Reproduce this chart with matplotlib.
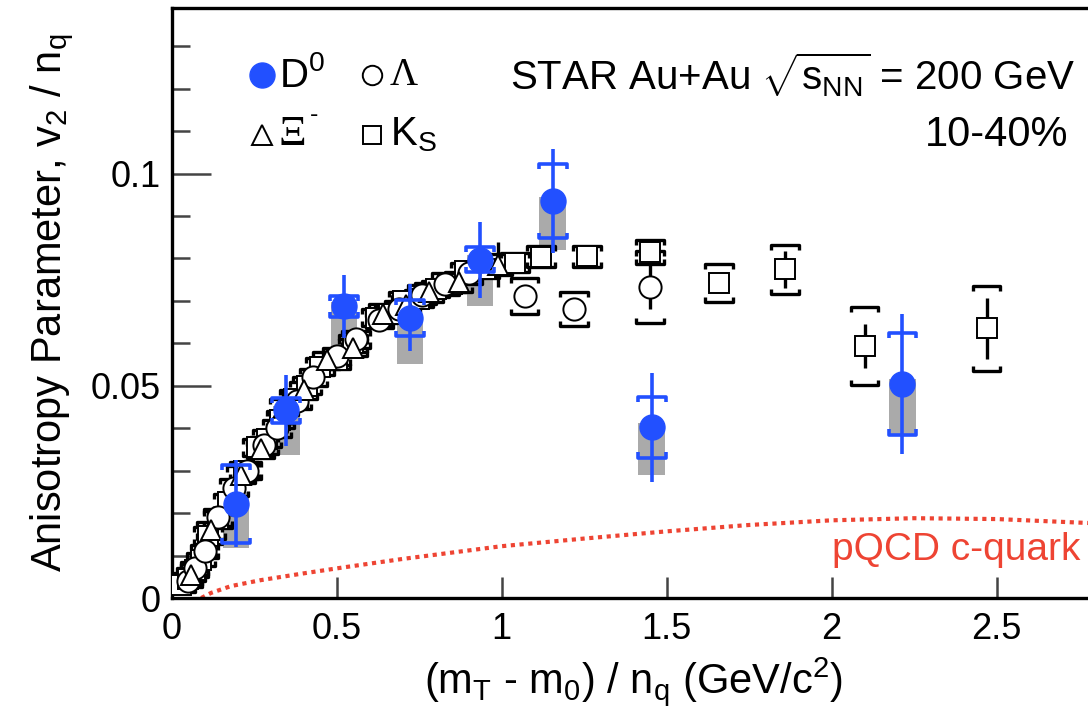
import matplotlib
matplotlib.use("Agg")
import matplotlib.pyplot as plt
from matplotlib.collections import LineCollection
from matplotlib.ticker import MultipleLocator, FixedLocator
import numpy as np

plt.rcParams['font.family'] = ['Liberation Sans', 'DejaVu Sans']
plt.rcParams['mathtext.fontset'] = 'custom'
plt.rcParams['mathtext.rm'] = 'Liberation Sans'
plt.rcParams['mathtext.it'] = 'Liberation Sans:italic'
plt.rcParams['mathtext.bf'] = 'Liberation Sans:bold'

# ---------------- data ----------------
# D0 (blue)
d0_x = [0.195, 0.348, 0.523, 0.722, 0.934, 1.155, 1.455, 2.215]
d0_y = [0.0222, 0.0442, 0.0687, 0.0660, 0.0797, 0.0935, 0.0402, 0.0505]
d0_stat = [0.0103, 0.0083, 0.0075, 0.0079, 0.0090, 0.0122, 0.0128, 0.0165]
d0_sys = [0.0092, 0.0030, 0.0025, 0.0042, 0.0030, 0.0088, 0.0071, 0.0120]
d0_box_lo = [0.0104, 0.0105, 0.0114, 0.0108, 0.0110, 0.0115, 0.0112, 0.0120]
d0_box_hi = [0.0028, 0.0010, 0.0010, 0.0010, 0.0010, 0.0010, 0.0010, 0.0010]

# Lambda (open circles)
lam_x = [0.05, 0.07, 0.10, 0.14, 0.19, 0.23, 0.28, 0.32, 0.38, 0.43, 0.50, 0.56, 0.63,
         0.69, 0.76, 0.83, 0.90, 1.07, 1.22, 1.45]
lam_y = [0.0040, 0.0070, 0.0110, 0.0190, 0.0260, 0.0300, 0.0360, 0.0400, 0.0465, 0.0520,
         0.0570, 0.0610, 0.0655, 0.0680, 0.0715, 0.0740, 0.0765, 0.0711, 0.0681, 0.0733]
lam_stat = [0.0005, 0.0005, 0.0005, 0.0005, 0.0005, 0.0005, 0.0005, 0.0006, 0.0006, 0.0006,
            0.0006, 0.0007, 0.0007, 0.0008, 0.0008, 0.0010, 0.0010, 0.0012, 0.0015, 0.0053]
lam_sys = [0.0015, 0.0015, 0.0015, 0.0020, 0.0020, 0.0020, 0.0020, 0.0020, 0.0020, 0.0020,
           0.0020, 0.0020, 0.0020, 0.0020, 0.0022, 0.0025, 0.0025, 0.0042, 0.0041, 0.0085]

# K0S (open squares)
ks_x = [0.03, 0.05, 0.07, 0.09, 0.11, 0.14, 0.17, 0.22, 0.26, 0.29, 0.33, 0.37, 0.41, 0.45,
        0.50, 0.55, 0.62, 0.66, 0.70, 0.75, 0.80, 0.85, 0.89, 0.95, 1.04, 1.12, 1.26, 1.45,
        1.66, 1.86, 2.10, 2.47]
ks_y = [0.0030, 0.0045, 0.0065, 0.0090, 0.0147, 0.0185, 0.0225, 0.0300, 0.0355, 0.0375,
        0.0420, 0.0470, 0.0500, 0.0545, 0.0560, 0.0600, 0.0660, 0.0670, 0.0700, 0.0705,
        0.0728, 0.0740, 0.0770, 0.0775, 0.0790, 0.0804, 0.0805, 0.0815, 0.0742, 0.0774,
        0.0594, 0.0635]
ks_stat = [0.0003, 0.0003, 0.0003, 0.0003, 0.0003, 0.0003, 0.0003, 0.0003, 0.0003, 0.0003,
           0.0003, 0.0003, 0.0004, 0.0004, 0.0004, 0.0004, 0.0004, 0.0005, 0.0005, 0.0005,
           0.0005, 0.0006, 0.0006, 0.0006, 0.0007, 0.0008, 0.0009, 0.0010, 0.0010, 0.0044,
           0.0052, 0.0072]
ks_sys = [0.0015, 0.0015, 0.0015, 0.0015, 0.0020, 0.0020, 0.0020, 0.0020, 0.0020, 0.0020,
          0.0020, 0.0020, 0.0020, 0.0020, 0.0020, 0.0020, 0.0020, 0.0020, 0.0020, 0.0020,
          0.0020, 0.0020, 0.0020, 0.0020, 0.0022, 0.0025, 0.0025, 0.0028, 0.0044, 0.0058,
          0.0092, 0.0100]

# Xi- (open triangles)
xi_x = [0.06, 0.12, 0.21, 0.27, 0.34, 0.40, 0.47, 0.55, 0.64, 0.71, 0.78, 0.87, 0.99]
xi_y = [0.0055, 0.0160, 0.0290, 0.0350, 0.0450, 0.0490, 0.0560, 0.0590, 0.0670, 0.0690,
        0.0720, 0.0745, 0.0785]
xi_stat = [0.0010, 0.0010, 0.0010, 0.0012, 0.0015, 0.0015, 0.0015, 0.0018, 0.0020, 0.0020,
           0.0020, 0.0025, 0.0053]
xi_sys = [0.0015, 0.0020, 0.0020, 0.0020, 0.0020, 0.0020, 0.0020, 0.0020, 0.0022, 0.0022,
          0.0022, 0.0024, 0.0025]

# pQCD c-quark curve
pqcd_x = [0.09, 0.12, 0.18, 0.27, 0.40, 0.52, 0.70, 1.00, 1.25, 1.50, 1.75, 2.00, 2.25, 2.50, 2.80]
pqcd_y = [0.0000, 0.0012, 0.0028, 0.0042, 0.0058, 0.0072, 0.0092, 0.0122, 0.0140, 0.0157,
          0.0172, 0.0183, 0.0188, 0.0186, 0.0176]

BLUE = '#2250ff'
RED = '#ee4433'
GREY = '#aaaaaa'

fig = plt.figure(figsize=(10.88, 7.11), dpi=100)
ax = fig.add_axes([171.5 / 1088, 113 / 711, 924 / 1088, 590 / 711])
ax.set_xlim(0, 2.8)
ax.set_ylim(0, 0.139)


def brackets(xs, ys, es, hw, tick):
    segs = []
    for x, y, e in zip(xs, ys, es):
        segs.append([(x - hw, y + e - tick), (x - hw, y + e), (x + hw, y + e), (x + hw, y + e - tick)])
        segs.append([(x - hw, y - e + tick), (x - hw, y - e), (x + hw, y - e), (x + hw, y - e + tick)])
    return segs


# grey boxes for D0
box_bottom = [y - lo for y, lo in zip(d0_y, d0_box_lo)]
box_height = [lo + hi for lo, hi in zip(d0_box_lo, d0_box_hi)]
ax.bar(d0_x, box_height, bottom=box_bottom, width=0.08, color=GREY, zorder=1, linewidth=0)

# pQCD curve
ax.plot(pqcd_x, pqcd_y, color=RED, lw=3.0, linestyle=(0, (1.0, 1.1)), zorder=1.5, clip_on=True)

# black series
for xs, ys, st, sy, mk, ms in [(ks_x, ks_y, ks_stat, ks_sys, 's', 14),
                               (lam_x, lam_y, lam_stat, lam_sys, 'o', 16),
                               (xi_x, xi_y, xi_stat, xi_sys, '^', 15)]:
    ax.errorbar(xs, ys, yerr=st, fmt='none', ecolor='black', elinewidth=2.4, capsize=0, zorder=2)
    ax.add_collection(LineCollection(brackets(xs, ys, sy, 0.042, 0.0012), colors='black',
                                     linewidths=2.4, zorder=2.2))
    ax.plot(xs, ys, linestyle='none', marker=mk, ms=ms, mfc='white', mec='black', mew=1.4, zorder=3)

# D0
ax.errorbar(d0_x, d0_y, yerr=d0_stat, fmt='none', ecolor=BLUE, elinewidth=2.6, capsize=0, zorder=4)
ax.add_collection(LineCollection(brackets(d0_x, d0_y, d0_sys, 0.042, 0.0012), colors=BLUE,
                                 linewidths=2.6, zorder=4))
ax.plot(d0_x, d0_y, linestyle='none', marker='o', ms=18, mfc=BLUE, mec=BLUE, zorder=5)

# axes styling
for side in ['left', 'bottom', 'top', 'right']:
    ax.spines[side].set_linewidth(2.4)
ax.xaxis.set_major_locator(FixedLocator([0, 0.5, 1, 1.5, 2, 2.5]))
ax.yaxis.set_major_locator(FixedLocator([0, 0.05, 0.1]))
ax.yaxis.set_minor_locator(MultipleLocator(0.01))
ax.set_xticklabels(['0', '0.5', '1', '1.5', '2', '2.5'])
ax.set_yticklabels(['0', '0.05', '0.1'])
ax.tick_params(axis='both', which='both', direction='in', labelsize=26, color='#444444')
ax.tick_params(axis='y', which='major', length=28, width=1.8, pad=8)
ax.tick_params(axis='y', which='minor', length=13, width=1.8)
ax.tick_params(axis='x', which='major', length=15, width=1.8, pad=10)
ax.tick_params(top=False, right=False)

ax.set_xlabel('(m$_\\mathrm{T}$ - m$_\\mathrm{0}$) / n$_\\mathrm{q}$ (GeV/c$^\\mathrm{2}$)', fontsize=30, labelpad=6)
ax.set_ylabel('Anisotropy Parameter, v$_\\mathrm{2}$ / n$_\\mathrm{q}$', fontsize=30, labelpad=10)

# legend (manual)
T = ax.transAxes
SERIF = ['Liberation Serif', 'DejaVu Serif']
ax.plot([0.098], [0.886], transform=T, marker='o', ms=18, mfc=BLUE, mec=BLUE, clip_on=False)
ax.text(0.116, 0.886, 'D$^\\mathrm{0}$', transform=T, fontsize=29, va='center', ha='left')
ax.plot([0.217], [0.886], transform=T, marker='o', ms=14, mfc='white', mec='black', mew=1.4, clip_on=False)
ax.text(0.236, 0.886, 'Λ', transform=T, fontsize=28, va='center', ha='left', family=SERIF)
ax.plot([0.098], [0.785], transform=T, marker='^', ms=14, mfc='white', mec='black', mew=1.4, clip_on=False)
ax.text(0.116, 0.785, 'Ξ', transform=T, fontsize=31, va='center', ha='left', family=SERIF)
ax.text(0.150, 0.818, '-', transform=T, fontsize=18, va='center', ha='left')
ax.plot([0.217], [0.785], transform=T, marker='s', ms=13, mfc='white', mec='black', mew=1.4, clip_on=False)
ax.text(0.236, 0.785, 'K$_\\mathrm{S}$', transform=T, fontsize=29, va='center', ha='left')

ax.text(1075 / 1088, (711 - 75) / 711, 'STAR Au+Au $\\sqrt{\\mathrm{s}_{\\mathrm{NN}}}$ = 200 GeV',
        transform=fig.transFigure, fontsize=29, ha='right', va='center')
ax.text(1068 / 1088, (711 - 135) / 711, '10-40%', transform=fig.transFigure, fontsize=30,
        ha='right', va='center')
ax.text(1080 / 1088, (711 - 550) / 711, 'pQCD c-quark', transform=fig.transFigure, fontsize=28,
        ha='right', va='center', color=RED)

fig.savefig('out.png', dpi=100)
